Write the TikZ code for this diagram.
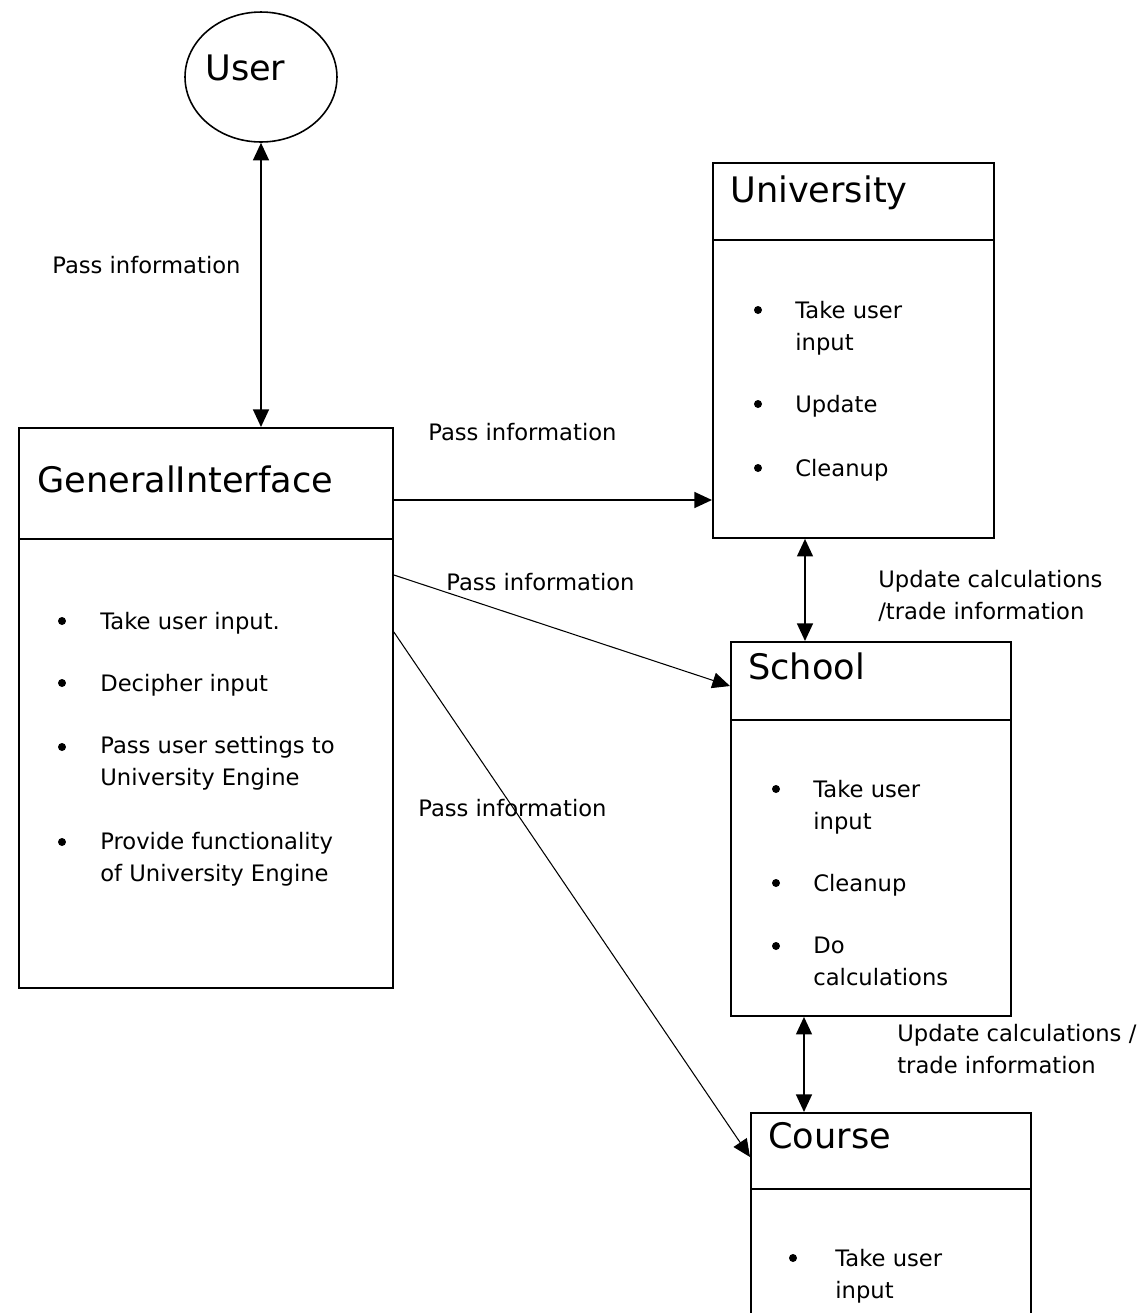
\documentclass[tikz,border=0pt]{standalone}
\usepackage{fontspec}
\setmainfont{DejaVu Sans}
\usetikzlibrary{shapes.geometric,arrows.meta}

\begin{document}
\begin{tikzpicture}[x=0.02cm, y=-0.02cm,
    box/.style={draw, line width=1.1pt, anchor=north west, inner sep=0pt},
    title/.style={anchor=base west, inner sep=0pt, font=\fontsize{20}{24}\selectfont},
    txt/.style={anchor=base west, inner sep=0pt, align=left, font=\fontsize{12.9}{18}\selectfont},
    dot/.style={circle, fill, inner sep=0pt, minimum size=0.16cm},
    link/.style={line width=1.1pt, -{Triangle[length=10pt,width=9pt]}},
    both/.style={line width=1.1pt, {Triangle[length=10pt,width=9pt]}-{Triangle[length=10pt,width=9pt]}},
    thinlink/.style={line width=0.6pt, -{Triangle[length=10pt,width=9pt]}}]
  \clip (0,0) rectangle (1146,1313);
  \fill[white] (0,0) rectangle (1146,1313);

  % actor
  \node[draw, ellipse, line width=0.9pt, minimum width=3.04cm, minimum height=2.6cm] (user) at (261,77) {};
  \node[title] (user-name) at (205,80) {User};

  % boxes
  \node[box, minimum width=7.48cm, minimum height=11.2cm] (gi) at (18,427) {};
  \node[box, minimum width=5.62cm, minimum height=7.5cm] (uni) at (712,162) {};
  \node[box, minimum width=5.6cm, minimum height=7.48cm] (school) at (730,641) {};
  \node[box, minimum width=5.6cm, minimum height=4.8cm] (course) at (750,1112) {};

  \draw[line width=1.1pt] (gi.west |- 0,539) -- (gi.east |- 0,539);
  \draw[line width=1.1pt] (uni.west |- 0,240) -- (uni.east |- 0,240);
  \draw[line width=1.1pt] (school.west |- 0,720) -- (school.east |- 0,720);
  \draw[line width=1.1pt] (course.west |- 0,1189) -- (course.east |- 0,1189);

  \node[title] (gi-title) at (37,492) {GeneralInterface};
  \node[title] (uni-title) at (730,202) {University};
  \node[title] (school-title) at (748,679) {School};
  \node[title] (course-title) at (768,1148) {Course};

  % bullet lists (two-line items sit on the baseline of their last line)
  \foreach \y/\by/\t [count=\i] in {621/629/{Take user input.}, 683/691/{Decipher input},
      747/785/{Pass user settings to\\University Engine}, 842/881/{Provide functionality\\of University Engine}} {
    \node[dot] (gi-dot\i) at (62,\y) {};
    \node[txt] (gi-item\i) at (100,\by) {\t};
  }
  \foreach \y/\by/\t [count=\i] in {310/350/{Take user\\input}, 404/412/{Update}, 468/476/{Cleanup}} {
    \node[dot] (uni-dot\i) at (758,\y) {};
    \node[txt] (uni-item\i) at (795,\by) {\t};
  }
  \foreach \y/\by/\t [count=\i] in {789/829/{Take user\\input}, 883/891/{Cleanup}, 946/985/{Do\\calculations}} {
    \node[dot] (school-dot\i) at (776,\y) {};
    \node[txt] (school-item\i) at (813,\by) {\t};
  }
  \node[dot] (course-dot1) at (793,1258) {};
  \node[txt] (course-item1) at (835,1298) {Take user\\input};

  % connectors
  \draw[both] (user.south) -- (user.south |- gi.north);
  \draw[link] (gi.east |- 0,500) -- (uni.west |- 0,500);
  \draw[thinlink] (gi.east |- 0,575) -- (school.west |- 0,686);
  \draw[thinlink] (gi.east |- 0,632) -- (course.west |- 0,1157);
  \draw[both] (805,0 |- uni.south) -- (805,0 |- school.north);
  \draw[both] (804,0 |- school.south) -- (804,0 |- course.north);

  \node[txt] (lbl-user) at (52,273) {Pass information};
  \node[txt] (lbl-uni) at (428,440) {Pass information};
  \node[txt] (lbl-school) at (446,590) {Pass information};
  \node[txt] (lbl-course) at (418,816) {Pass information};
  \node[txt] (lbl-upd1) at (878,619) {Update calculations\\/trade information};
  \node[txt] (lbl-upd2) at (897,1073) {Update calculations /\\trade information};
\end{tikzpicture}
\end{document}
